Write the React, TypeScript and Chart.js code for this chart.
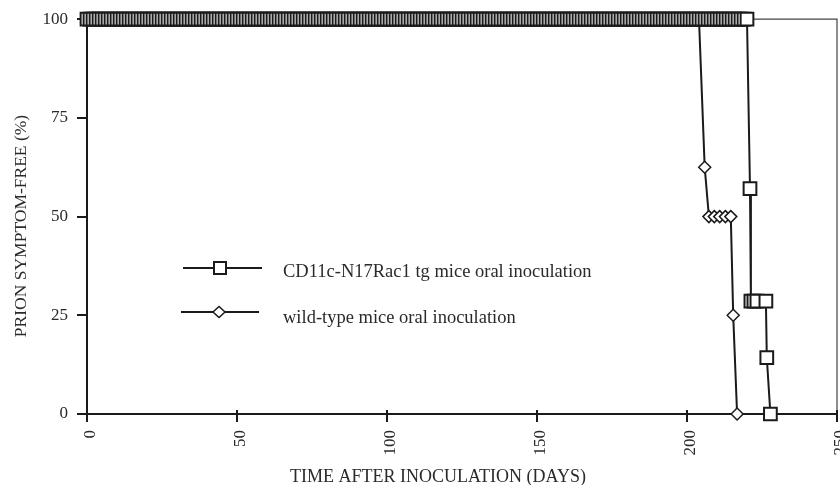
import React, { useEffect, useRef } from "react";
import { Chart, registerables } from "chart.js";

Chart.register(...registerables);

// ---- Text ----
const TG_LABEL = "CD11c-N17Rac1 tg mice oral inoculation";
const WT_LABEL = "wild-type mice oral inoculation";
const X_TITLE = "TIME AFTER INOCULATION (DAYS)";
const Y_TITLE = "PRION SYMPTOM-FREE (%)";

// ---- Axis ticks ----
const xTicks = [0, 50, 100, 150, 200, 250];
const yTicks = [0, 25, 50, 75, 100];

// ---- CD11c-N17Rac1 tg series ----
const tgPlateauValue = 100;
const tgPlateauDays = [
  0, 1, 2, 3, 4, 5, 6, 7, 8, 9, 10, 11, 12, 13, 14, 15, 16, 17, 18, 19,
  20, 21, 22, 23, 24, 25, 26, 27, 28, 29, 30, 31, 32, 33, 34, 35, 36, 37, 38, 39,
  40, 41, 42, 43, 44, 45, 46, 47, 48, 49, 50, 51, 52, 53, 54, 55, 56, 57, 58, 59,
  60, 61, 62, 63, 64, 65, 66, 67, 68, 69, 70, 71, 72, 73, 74, 75, 76, 77, 78, 79,
  80, 81, 82, 83, 84, 85, 86, 87, 88, 89, 90, 91, 92, 93, 94, 95, 96, 97, 98, 99,
  100, 101, 102, 103, 104, 105, 106, 107, 108, 109, 110, 111, 112, 113, 114, 115, 116, 117, 118, 119,
  120, 121, 122, 123, 124, 125, 126, 127, 128, 129, 130, 131, 132, 133, 134, 135, 136, 137, 138, 139,
  140, 141, 142, 143, 144, 145, 146, 147, 148, 149, 150, 151, 152, 153, 154, 155, 156, 157, 158, 159,
  160, 161, 162, 163, 164, 165, 166, 167, 168, 169, 170, 171, 172, 173, 174, 175, 176, 177, 178, 179,
  180, 181, 182, 183, 184, 185, 186, 187, 188, 189, 190, 191, 192, 193, 194, 195, 196, 197, 198, 199,
  200, 201, 202, 203, 204, 205, 206, 207, 208, 209, 210, 211, 212, 213, 214, 215, 216, 217, 218, 219,
  220,
];
const tgDropDays = [221, 221.3, 222.3, 223.3, 226.3, 226.6, 227.8];
const tgDropValues = [57.1, 28.6, 28.6, 28.6, 28.6, 14.3, 0];

// ---- wild-type series ----
const wtPlateauValue = 100;
const wtPlateauDays = [
  0, 1, 2, 3, 4, 5, 6, 7, 8, 9, 10, 11, 12, 13, 14, 15, 16, 17, 18, 19,
  20, 21, 22, 23, 24, 25, 26, 27, 28, 29, 30, 31, 32, 33, 34, 35, 36, 37, 38, 39,
  40, 41, 42, 43, 44, 45, 46, 47, 48, 49, 50, 51, 52, 53, 54, 55, 56, 57, 58, 59,
  60, 61, 62, 63, 64, 65, 66, 67, 68, 69, 70, 71, 72, 73, 74, 75, 76, 77, 78, 79,
  80, 81, 82, 83, 84, 85, 86, 87, 88, 89, 90, 91, 92, 93, 94, 95, 96, 97, 98, 99,
  100, 101, 102, 103, 104, 105, 106, 107, 108, 109, 110, 111, 112, 113, 114, 115, 116, 117, 118, 119,
  120, 121, 122, 123, 124, 125, 126, 127, 128, 129, 130, 131, 132, 133, 134, 135, 136, 137, 138, 139,
  140, 141, 142, 143, 144, 145, 146, 147, 148, 149, 150, 151, 152, 153, 154, 155, 156, 157, 158, 159,
  160, 161, 162, 163, 164, 165, 166, 167, 168, 169, 170, 171, 172, 173, 174, 175, 176, 177, 178, 179,
  180, 181, 182, 183, 184, 185, 186, 187, 188, 189, 190, 191, 192, 193, 194, 195, 196, 197, 198, 199,
  200, 201, 202, 203, 204,
];
const wtDropDays = [205.9, 207.3, 209.1, 210.9, 212.8, 214.6, 215.4, 216.7];
const wtDropValues = [62.5, 50, 50, 50, 50, 50, 25, 0];

const FONT = "'Liberation Serif', 'Times New Roman', serif";
const INK = "#1a1a1a";
const TEXT = "#2a2a2a";

function buildPoints(plateauDays: number[], plateauValue: number, dropDays: number[], dropValues: number[]) {
  const pts = plateauDays.map((d) => ({ x: d, y: plateauValue }));
  dropDays.forEach((d, i) => pts.push({ x: d, y: dropValues[i] }));
  return pts;
}

const decorPlugin = {
  id: "decor",
  beforeDatasetsDraw(chart: any) {
    const { ctx, chartArea: a, scales } = chart;
    ctx.save();
    ctx.strokeStyle = "#444";
    ctx.lineWidth = 1.2;
    ctx.beginPath();
    ctx.moveTo(a.left, a.top);
    ctx.lineTo(a.right, a.top);
    ctx.lineTo(a.right, a.bottom);
    ctx.stroke();
    ctx.strokeStyle = INK;
    ctx.lineWidth = 2;
    xTicks.forEach((v) => {
      const px = scales.x.getPixelForValue(v);
      ctx.beginPath();
      ctx.moveTo(px, a.bottom);
      ctx.lineTo(px, a.bottom - 4);
      ctx.stroke();
    });
    ctx.restore();
  },
  afterDraw(chart: any) {
    const { ctx } = chart;
    ctx.save();
    ctx.fillStyle = TEXT;
    ctx.font = `18px ${FONT}`;
    ctx.textAlign = "center";
    ctx.textBaseline = "alphabetic";
    ctx.fillText(X_TITLE, 438, 482);
    ctx.save();
    ctx.translate(26, 226);
    ctx.rotate(-Math.PI / 2);
    ctx.font = `17.5px ${FONT}`;
    ctx.textAlign = "center";
    ctx.fillText(Y_TITLE, 0, 0);
    ctx.restore();

    // legend
    ctx.strokeStyle = INK;
    ctx.lineWidth = 2;
    ctx.beginPath();
    ctx.moveTo(183, 268);
    ctx.lineTo(262, 268);
    ctx.stroke();
    ctx.fillStyle = "#fff";
    ctx.fillRect(214, 262, 12, 12);
    ctx.strokeRect(214, 262, 12, 12);

    ctx.beginPath();
    ctx.moveTo(181, 312);
    ctx.lineTo(259, 312);
    ctx.stroke();
    ctx.lineWidth = 1.5;
    ctx.beginPath();
    ctx.moveTo(219 - 6, 312);
    ctx.lineTo(219, 312 - 5.5);
    ctx.lineTo(219 + 6, 312);
    ctx.lineTo(219, 312 + 5.5);
    ctx.closePath();
    ctx.fill();
    ctx.stroke();

    ctx.fillStyle = TEXT;
    ctx.font = `18.5px ${FONT}`;
    ctx.textAlign = "left";
    ctx.fillText(TG_LABEL, 283, 277);
    ctx.fillText(WT_LABEL, 283, 323);
    ctx.restore();
  },
};

export default function App() {
  const canvasRef = useRef<HTMLCanvasElement | null>(null);

  useEffect(() => {
    const canvas = canvasRef.current;
    if (!canvas) return;
    const chart = new Chart(canvas, {
      type: "line",
      data: {
        datasets: [
          {
            label: TG_LABEL,
            data: buildPoints(tgPlateauDays, tgPlateauValue, tgDropDays, tgDropValues),
            borderColor: INK,
            borderWidth: 2,
            pointStyle: "rect",
            pointRadius: 9,
            pointBorderWidth: 2,
            pointBackgroundColor: "#fff",
            pointBorderColor: INK,
            tension: 0,
            fill: false,
            clip: false,
          },
          {
            label: WT_LABEL,
            data: buildPoints(wtPlateauDays, wtPlateauValue, wtDropDays, wtDropValues),
            borderColor: INK,
            borderWidth: 2,
            pointStyle: "rectRot",
            pointRadius: 6,
            pointBorderWidth: 1.5,
            pointBackgroundColor: "#fff",
            pointBorderColor: INK,
            tension: 0,
            fill: false,
            clip: false,
          },
        ],
      },
      options: {
        animation: false,
        responsive: false,
        devicePixelRatio: 1,
        events: [],
        layout: { autoPadding: false, padding: { top: 19, right: 3, left: 0, bottom: 0 } },
        plugins: {
          legend: { display: false },
          tooltip: { enabled: false },
          title: { display: false },
        },
        scales: {
          x: {
            type: "linear",
            min: 0,
            max: 250,
            afterFit: (scale: any) => {
              scale.height = 71;
              scale.paddingLeft = 0;
              scale.paddingRight = 0;
            },
            afterBuildTicks: (scale: any) => {
              scale.ticks = xTicks.map((v) => ({ value: v }));
            },
            border: { display: true, color: INK, width: 2 },
            grid: {
              display: true,
              drawOnChartArea: false,
              drawTicks: true,
              tickLength: 8,
              color: INK,
              lineWidth: 2,
            },
            ticks: {
              autoSkip: false,
              maxRotation: 90,
              minRotation: 90,
              padding: 8,
              labelOffset: 4,
              color: TEXT,
              font: { family: FONT, size: 17 },
            },
          },
          y: {
            type: "linear",
            min: 0,
            max: 100,
            afterFit: (scale: any) => {
              scale.width = 87;
            },
            afterBuildTicks: (scale: any) => {
              scale.ticks = yTicks.map((v) => ({ value: v }));
            },
            border: { display: true, color: INK, width: 2 },
            grid: {
              display: true,
              drawOnChartArea: false,
              drawTicks: true,
              tickLength: 10,
              color: INK,
              lineWidth: 2,
            },
            ticks: {
              padding: 9,
              color: TEXT,
              font: { family: FONT, size: 17 },
            },
          },
        },
      },
      plugins: [decorPlugin],
    });
    return () => chart.destroy();
  }, []);

  return (
    <div style={{ position: "absolute", left: 0, top: 0, width: 840, height: 485, background: "#fff" }}>
      <canvas ref={canvasRef} width={840} height={485} />
    </div>
  );
}
